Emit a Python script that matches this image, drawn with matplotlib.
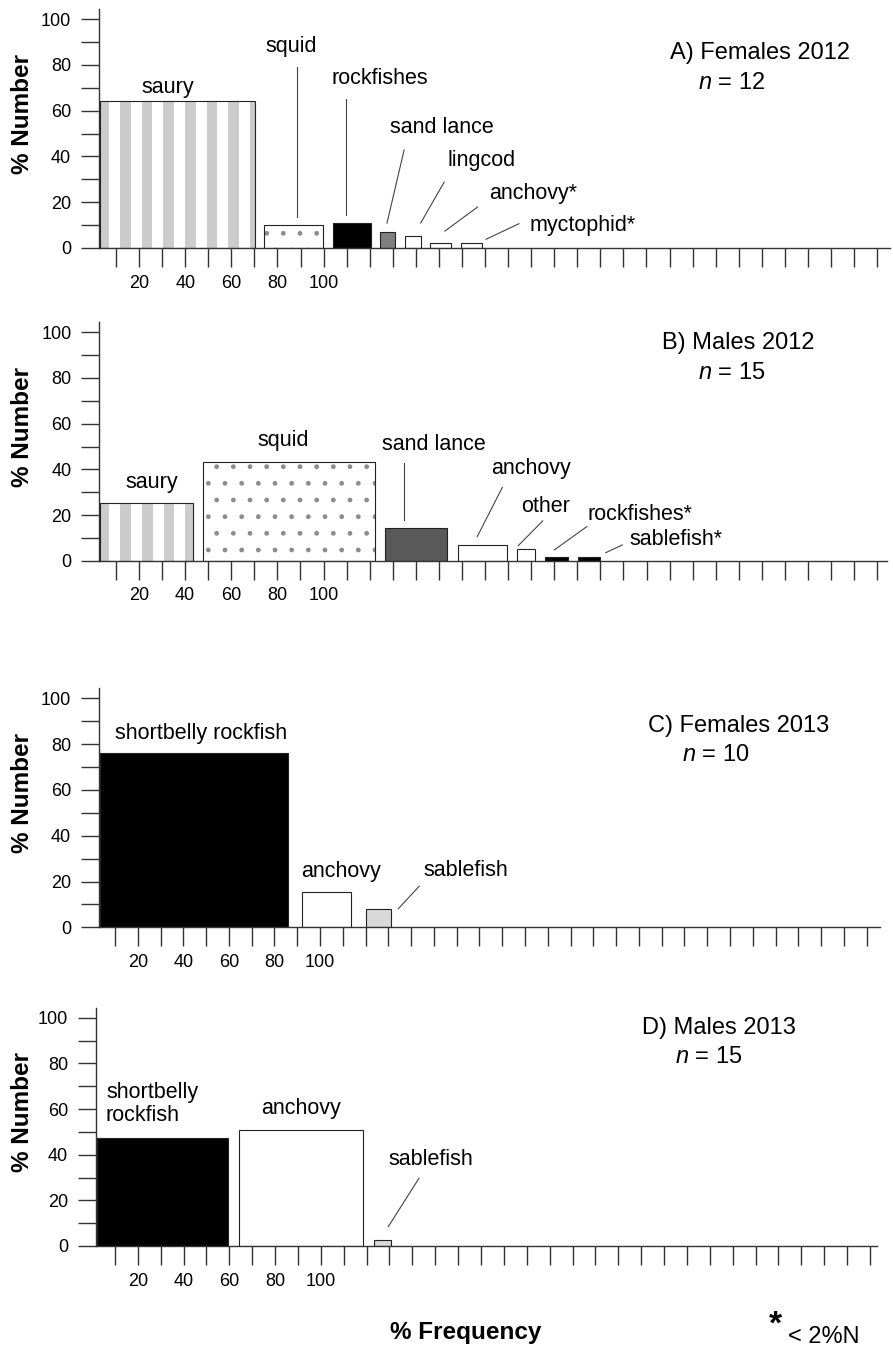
import numpy as np
import matplotlib.pyplot as plt

plt.rcParams['font.family'] = ['Liberation Sans', 'DejaVu Sans']
plt.rcParams['mathtext.fontset'] = 'custom'
plt.rcParams['mathtext.it'] = 'Liberation Sans:italic'
plt.rcParams['mathtext.rm'] = 'Liberation Sans'

W, H = 893, 1349

# A) Females 2012, n = 12
prey_a = ['saury', 'squid', 'rockfishes', 'sand lance', 'lingcod', 'anchovy*', 'myctophid*']
freq_a = [67.2, 25.6, 16.5, 6.5, 7.0, 9.1, 9.1]    # % frequency -> bar width
num_a = [64.3, 10.0, 11.0, 6.8, 5.4, 2.0, 2.0]     # % number -> bar height

# B) Males 2012, n = 15
prey_b = ['saury', 'squid', 'sand lance', 'anchovy', 'other', 'rockfishes*', 'sablefish*']
freq_b = [40.3, 74.4, 27.0, 21.5, 7.7, 9.7, 9.7]
num_b = [25.1, 43.1, 14.2, 7.0, 5.0, 1.5, 1.5]

# C) Females 2013, n = 10
prey_c = ['shortbelly rockfish', 'anchovy', 'sablefish']
freq_c = [82.4, 21.4, 10.8]
num_c = [76.0, 15.3, 8.1]

# D) Males 2013, n = 15
prey_d = ['shortbelly\nrockfish', 'anchovy', 'sablefish']
freq_d = [57.3, 54.3, 7.3]
num_d = [47.2, 51.0, 2.6]

titles = ['A) Females 2012', 'B) Males 2012', 'C) Females 2013', 'D) Males 2013']
n_fish = [12, 15, 10, 15]
xtick_labels = ['20', '40', '60', '80', '100']

# стиль заливки для каждого столбика
fills_a = ['stripes', 'dots', 'black', '#7f7f7f', 'white', 'white', 'white']
fills_b = ['stripes', 'dots', '#595959', 'white', 'white', 'black', 'black']
fills_c = ['black', 'white', '#d9d9d9']
fills_d = ['black', 'white', '#d9d9d9']

# положение панелей в пикселях: x0, y0, правый край, верх оси, px на единицу x, px на единицу y, первый штрих, зазор
geos = [
    (99.0, 248.0, 890, 9, 2.306, 2.29, 7.4, 4.1),
    (99.3, 560.7, 887, 322, 2.307, 2.284, 7.2, 4.4),
    (99.0, 927.3, 880, 688, 2.278, 2.29, 7.0, 6.5),
    (95.7, 1246.0, 877, 1008, 2.288, 2.283, 8.4, 4.85),
]

# подписи (x, y, выравнивание) и выноски
labs = [
    [(29.9, 70.3, 'center'), (83.3, 87.8, 'center'), (121.9, 74.2, 'center'), (148.6, 52.8, 'center'),
     (165.7, 38.4, 'center'), (188.1, 24.0, 'center'), (209.8, 10.0, 'center')],
    [(22.7, 34.2, 'center'), (79.8, 52.5, 'center'), (144.9, 50.7, 'center'), (187.0, 40.5, 'center'),
     (193.5, 23.6, 'center'), (234.5, 20.4, 'center'), (250.0, 9.4, 'center')],
    [(44.6, 84.7, 'center'), (106.4, 24.3, 'center'), (161.0, 24.6, 'center')],
    [(4.5, 62.2, 'left'), (89.9, 60.3, 'center'), (146.5, 38.1, 'center')],
]
leads = [
    [None, ((85.9, 79.0), (85.9, 13.5)), ((107.1, 65.1), (107.1, 14.4)), ((132.3, 42.8), (124.9, 10.9)),
     ((149.7, 28.8), (139.5, 10.9)), ((164.2, 17.9), (150.0, 7.4)), ((182.1, 10.6), (167.8, 3.8))],
    [None, None, ((132.1, 42.8), (132.1, 17.8)), ((174.7, 32.1), (163.8, 10.5)),
     ((192.2, 17.4), (181.6, 6.6)), ((211.3, 14.9), (197.2, 4.7)), ((226.7, 6.9), (219.5, 3.5))],
    [None, None, ((140.6, 18.0), (131.4, 8.1))],
    [None, None, ((141.3, 29.7), (127.9, 8.5))],
]
title_pos = [((247.6, 85.2), (259.9, 72.1)), ((244.0, 95.2), (259.6, 82.3)),
             ((241.1, 88.0), (256.1, 75.2)), ((238.6, 95.4), (253.2, 82.7))]

LINE = '#333333'


def draw_panel(ax, geo, prey, freq, num, fills, lab, lead, title, n, tpos):
    x0, y0, right, top, sx, sy, tick0, gap = geo
    ax.set_xlim(0, (right - x0) / sx)
    ax.set_ylim(0, (y0 - top) / sy)

    freq = np.array(freq)
    lefts = 0.4 + np.concatenate([[0], np.cumsum(freq[:-1] + gap)])

    for left, w, h, f in zip(lefts, freq, num, fills):
        if f == 'stripes':
            ax.bar(left, h, w, align='edge', color='white', lw=0, zorder=2)
            starts = np.arange(left - 0.7, left + w, 9.4)
            s0 = np.clip(starts, left, left + w)
            s1 = np.clip(starts + 4.6, left, left + w)
            ax.bar(s0, h, s1 - s0, align='edge', color='#cccccc', lw=0, zorder=2.5)
        elif f == 'dots':
            ax.bar(left, h, w, align='edge', facecolor='white', edgecolor='#8c8c8c',
                   hatch='.', lw=0, zorder=2)
        else:
            ax.bar(left, h, w, align='edge', color=f, lw=0, zorder=2)
        ax.bar(left, h, w, align='edge', facecolor='none', edgecolor='#222222', lw=0.8, zorder=3)

    for name, (tx, ty, ha) in zip(prey, lab):
        ax.text(tx, ty, name, ha=ha, va='center', fontsize=15.5, linespacing=1.15)
    for seg in lead:
        if seg is None:
            continue
        (xa, ya), (xb, yb) = seg
        ax.plot([xa, xb], [ya, yb], color='#444444', lw=0.8, zorder=3)

    ax.text(tpos[0][0], tpos[0][1], title, ha='left', va='center', fontsize=17)
    ax.text(tpos[1][0], tpos[1][1], r'$\mathit{n}$ = %d' % n, ha='left', va='center', fontsize=17)

    for s in ['top', 'right']:
        ax.spines[s].set_visible(False)
    for s in ['left', 'bottom']:
        ax.spines[s].set_color(LINE)
        ax.spines[s].set_linewidth(1.0)

    xt = tick0 + 10 * np.arange(34)
    xl = [''] * 34
    for k, t in zip([1, 3, 5, 7, 9], xtick_labels):
        xl[k] = t
    ax.set_xticks(xt)
    ax.set_xticklabels(xl)
    ax.set_yticks(np.arange(0, 101, 10))
    ax.set_yticklabels([str(v) if v % 20 == 0 else '' for v in range(0, 101, 10)])
    ax.tick_params(axis='x', direction='out', length=13.7, width=1.0, color=LINE, labelsize=13, pad=5.5)
    ax.tick_params(axis='y', direction='out', length=13, width=1.0, color=LINE, labelsize=13, pad=7)

    fig.text(22.5 / W, 1 - (y0 - 58.5 * sy) / H, '% Number', rotation=90, ha='center', va='center',
             fontsize=17.5, fontweight='bold')


fig = plt.figure(figsize=(W / 100, H / 100), dpi=100)

panels = [
    (prey_a, freq_a, num_a, fills_a),
    (prey_b, freq_b, num_b, fills_b),
    (prey_c, freq_c, num_c, fills_c),
    (prey_d, freq_d, num_d, fills_d),
]
for i, (prey, freq, num, fills) in enumerate(panels):
    x0, y0, right, top = geos[i][:4]
    ax = fig.add_axes([x0 / W, 1 - y0 / H, (right - x0) / W, (y0 - top) / H])
    draw_panel(ax, geos[i], prey, freq, num, fills, labs[i], leads[i], titles[i], n_fish[i], title_pos[i])

fig.text(466 / W, 1 - 1332 / H, '% Frequency', ha='center', va='center', fontsize=17.5, fontweight='bold')
fig.text(775 / W, 1 - 1325 / H, '*', ha='center', va='center', fontsize=24, fontweight='bold')
fig.text(788 / W, 1 - 1337 / H, '< 2%N', ha='left', va='center', fontsize=17)

fig.savefig('out.png', dpi=100)
